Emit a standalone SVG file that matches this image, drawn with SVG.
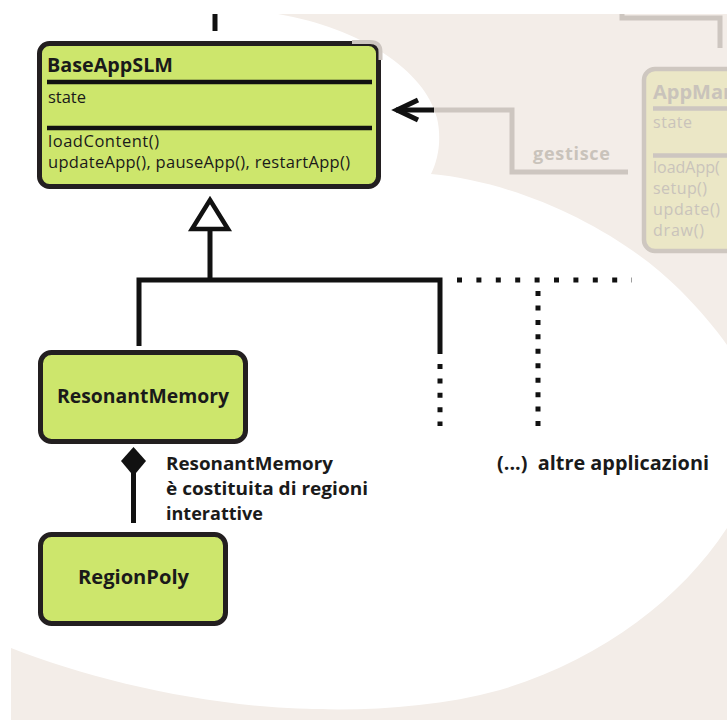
<svg xmlns="http://www.w3.org/2000/svg" width="727" height="720" viewBox="0 0 727 720">
<defs>
<style>
.box{fill:#cde66c;stroke:#231f20;stroke-width:5}
.gbox{fill:#ebe7c6;stroke:#cec7c0;stroke-width:4.5}
.t{font-family:"Open Sans",Lato,"Liberation Sans",sans-serif;fill:#1a1a1a}
.b{font-weight:bold}
.g{fill:#c9c3bb}
.ln{stroke:#111;stroke-width:5;fill:none}
.gl{stroke:#cdc6c0;stroke-width:5;fill:none}
.dot{stroke:#111;stroke-width:5;fill:none}
</style>
<clipPath id="edge"><rect x="0" y="0" width="727" height="720"/></clipPath>
</defs>
<rect width="727" height="720" fill="#ffffff"/>
<rect x="11" y="14" width="716" height="706" fill="#f3ede8"/>
<path d="M11,14 L278,14 C360,28 425,70 437,118 C442,140 438,160 431,174 C520,182 620,230 680,290 C700,310 715,328 727,345 L727,528 C680,600 600,660 500,690 C420,712 330,712 260,706 C170,698 80,675 11,648 Z" fill="#ffffff"/>

<g id="connectors">
  <line class="ln" x1="215" y1="14" x2="215" y2="31"/>
  <path class="gl" d="M622,14 L622,18 L720,18 L720,48"/>
  <path class="gl" d="M433,110 L512,110 L512,172 L628,172"/>
  <line class="ln" x1="396" y1="110" x2="434" y2="110"/>
  <path class="ln" d="M418,100 L397,110 L418,120" stroke-linejoin="miter"/>
  <text class="t b g" x="533" y="160" font-size="18" textLength="77">gestisce</text>
  <path class="ln" d="M210,231 L210,280 M136.5,280 L442.5,280 M139,280 L139,346 M440,280 L440,354"/>
  <path d="M210,200 L228,229 L192,229 Z" fill="#ffffff" stroke="#111" stroke-width="4.5" stroke-linejoin="miter"/>
  <path class="dot" d="M457,280 L632,280" stroke-dasharray="5 14.4"/>
  <path class="dot" d="M440,364 L440,426" stroke-dasharray="5 9.4"/>
  <path class="dot" d="M538,291 L538,426" stroke-dasharray="5 9.45"/>
  <line class="ln" x1="133.5" y1="470" x2="133.5" y2="523"/>
  <path d="M133.5,447 L146,461 L133.5,476 L121,461 Z" fill="#111"/>
  <text class="t b" font-size="18" x="166" y="470" textLength="167" lengthAdjust="spacingAndGlyphs">ResonantMemory</text>
  <text class="t b" font-size="18" x="166" y="495" textLength="202" lengthAdjust="spacingAndGlyphs">è costituita di regioni</text>
  <text class="t b" font-size="18" x="166" y="520" textLength="97" lengthAdjust="spacingAndGlyphs">interattive</text>
  <text class="t b" font-size="19" x="497" y="470" textLength="212" lengthAdjust="spacingAndGlyphs" xml:space="preserve">(...)  altre applicazioni</text>
</g>

<g id="AppManager" clip-path="url(#edge)">
  <rect class="gbox" x="644" y="69" width="120" height="182" rx="11"/>
  <text class="t b g" x="653" y="99" font-size="20">AppMan</text>
  <line x1="653" y1="108.5" x2="727" y2="108.5" stroke="#cdc6c0" stroke-width="4.5"/>
  <text class="t g" x="653" y="128" font-size="16" textLength="39">state</text>
  <line x1="653" y1="155.5" x2="727" y2="155.5" stroke="#cdc6c0" stroke-width="4.5"/>
  <text class="t g" x="653" y="173" font-size="16">loadApp(</text>
  <text class="t g" x="653" y="194" font-size="16" textLength="54">setup()</text>
  <text class="t g" x="653" y="215" font-size="16" textLength="67">update()</text>
  <text class="t g" x="653" y="236" font-size="16" textLength="51">draw()</text>
</g>

<g id="BaseAppSLM">
  <rect class="box" x="39.5" y="43.5" width="339" height="143" rx="10"/>
  <path d="M352,42 L370,42 Q380.5,42 380.5,52 L380.5,60" fill="none" stroke="#cdc6c0" stroke-width="4"/>
  <text class="t b" x="47" y="72" font-size="20" textLength="126" lengthAdjust="spacingAndGlyphs">BaseAppSLM</text>
  <line x1="47" y1="82" x2="372" y2="82" stroke="#111" stroke-width="4.5"/>
  <text class="t" x="48" y="103" font-size="16.5" textLength="38">state</text>
  <line x1="47" y1="128" x2="372" y2="128" stroke="#111" stroke-width="4.5"/>
  <text class="t" x="48" y="147" font-size="16.5" textLength="111">loadContent()</text>
  <text class="t" x="48" y="168" font-size="16.5" textLength="302">updateApp(), pauseApp(), restartApp()</text>
</g>

<g id="ResonantMemory">
  <rect class="box" x="40.5" y="352.5" width="205" height="89" rx="11"/>
  <text class="t b" x="57" y="403" font-size="20" textLength="172" lengthAdjust="spacingAndGlyphs">ResonantMemory</text>
</g>

<g id="RegionPoly">
  <rect class="box" x="40.5" y="534.5" width="185" height="89" rx="11"/>
  <text class="t b" x="78" y="584" font-size="20" textLength="111" lengthAdjust="spacingAndGlyphs">RegionPoly</text>
</g>
</svg>
